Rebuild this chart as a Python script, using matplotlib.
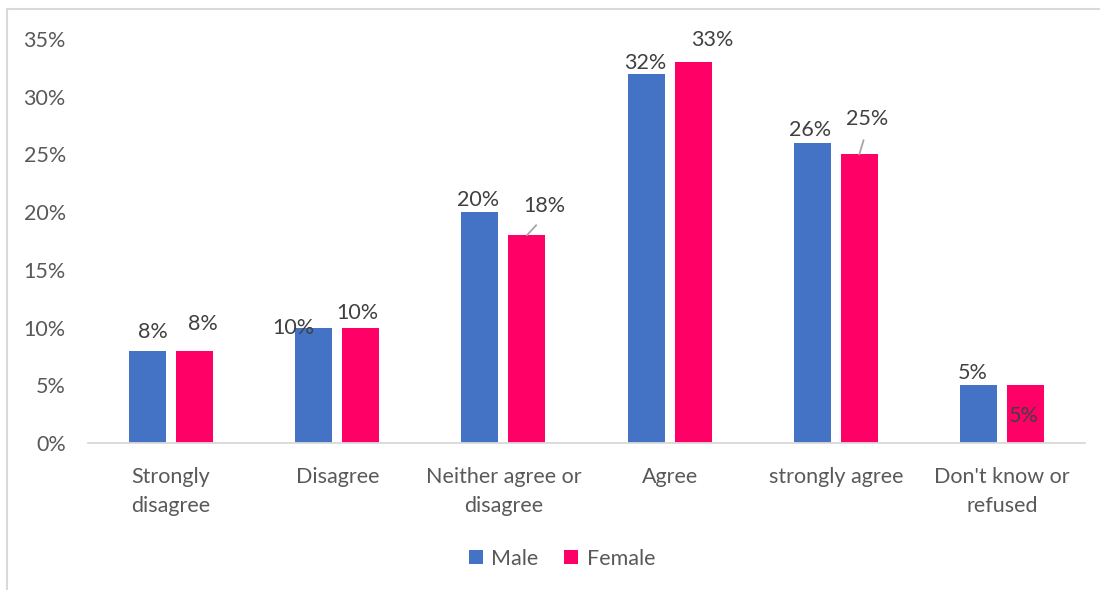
import numpy as np
import matplotlib.pyplot as plt
from matplotlib.patches import Rectangle
from matplotlib.ticker import PercentFormatter

categories = ["Strongly\ndisagree", "Disagree", "Neither agree or\ndisagree",
              "Agree", "strongly agree", "Don't know or\nrefused"]
male = [8, 10, 20, 32, 26, 5]
female = [8, 10, 18, 33, 25, 5]

# hand-placed label offsets (pixels from top centre of each bar)
male_offsets = [(5, 19), (-20, 0), (-1.5, 12), (-1, 11), (-2.5, 13), (-5.5, 12)]
female_offsets = [(8.5, 27), (-3.5, 15), (17.5, 29), (19.5, 22), (7.5, 35), (-1.5, -31)]
female_leaders = [False, False, True, False, True, False]

plt.rcParams["font.family"] = ["Lato", "DejaVu Sans"]
FS = 15.5

fig = plt.figure(figsize=(11, 5.9), dpi=100)
ax = fig.add_axes([0.08, 0.2492, 0.9064, 0.6847])

x = np.arange(len(categories))
w = 0.223
off = 0.1416
ax.bar(x - off, male, w, color="#4472C4", label="Male")
ax.bar(x + off, female, w, color="#FF0066", label="Female")

def put_label(xpos, val, dx, dy, leader=False):
    kw = {}
    if leader:
        kw["arrowprops"] = dict(arrowstyle="-", color="#A6A6A6", lw=1.3,
                                relpos=(0.5, 0), shrinkA=6, shrinkB=0)
    ax.annotate(f"{val}%", xy=(xpos, val), xytext=(dx, dy),
                textcoords="offset pixels", ha="center", va="center",
                fontsize=FS, color="#404040", **kw)

for i in range(len(categories)):
    put_label(x[i] - off, male[i], *male_offsets[i])
    put_label(x[i] + off, female[i], *female_offsets[i], leader=female_leaders[i])

ax.set_xlim(-0.5, len(categories) - 0.5)
ax.set_ylim(0, 35)
ax.set_yticks(range(0, 36, 5))
ax.yaxis.set_major_formatter(PercentFormatter(decimals=0))
ax.set_xticks(x)
ax.set_xticklabels(categories, linespacing=1.6)
ax.tick_params(axis="both", length=0, labelsize=FS, labelcolor="#595959")
ax.tick_params(axis="x", pad=17)
ax.tick_params(axis="y", pad=16)

for s in ["top", "right", "left"]:
    ax.spines[s].set_visible(False)
ax.spines["bottom"].set_color("#D9D9D9")
ax.spines["bottom"].set_linewidth(1.3)

ax.legend(loc="center", bbox_to_anchor=(0.511, 0.053), bbox_transform=fig.transFigure,
          ncol=2, frameon=False, fontsize=FS, labelcolor="#595959",
          handlelength=0.65, handleheight=0.65, handletextpad=0.4, columnspacing=1.2)

# thin chart-area border along the left and top edges
fig.add_artist(Rectangle((7 / 1100, -0.1), 1.2, 1 - 9 / 590 + 0.1,
                         transform=fig.transFigure, fill=False,
                         edgecolor="#D9D9D9", linewidth=1.5))

fig.savefig("out.png", dpi=100)
